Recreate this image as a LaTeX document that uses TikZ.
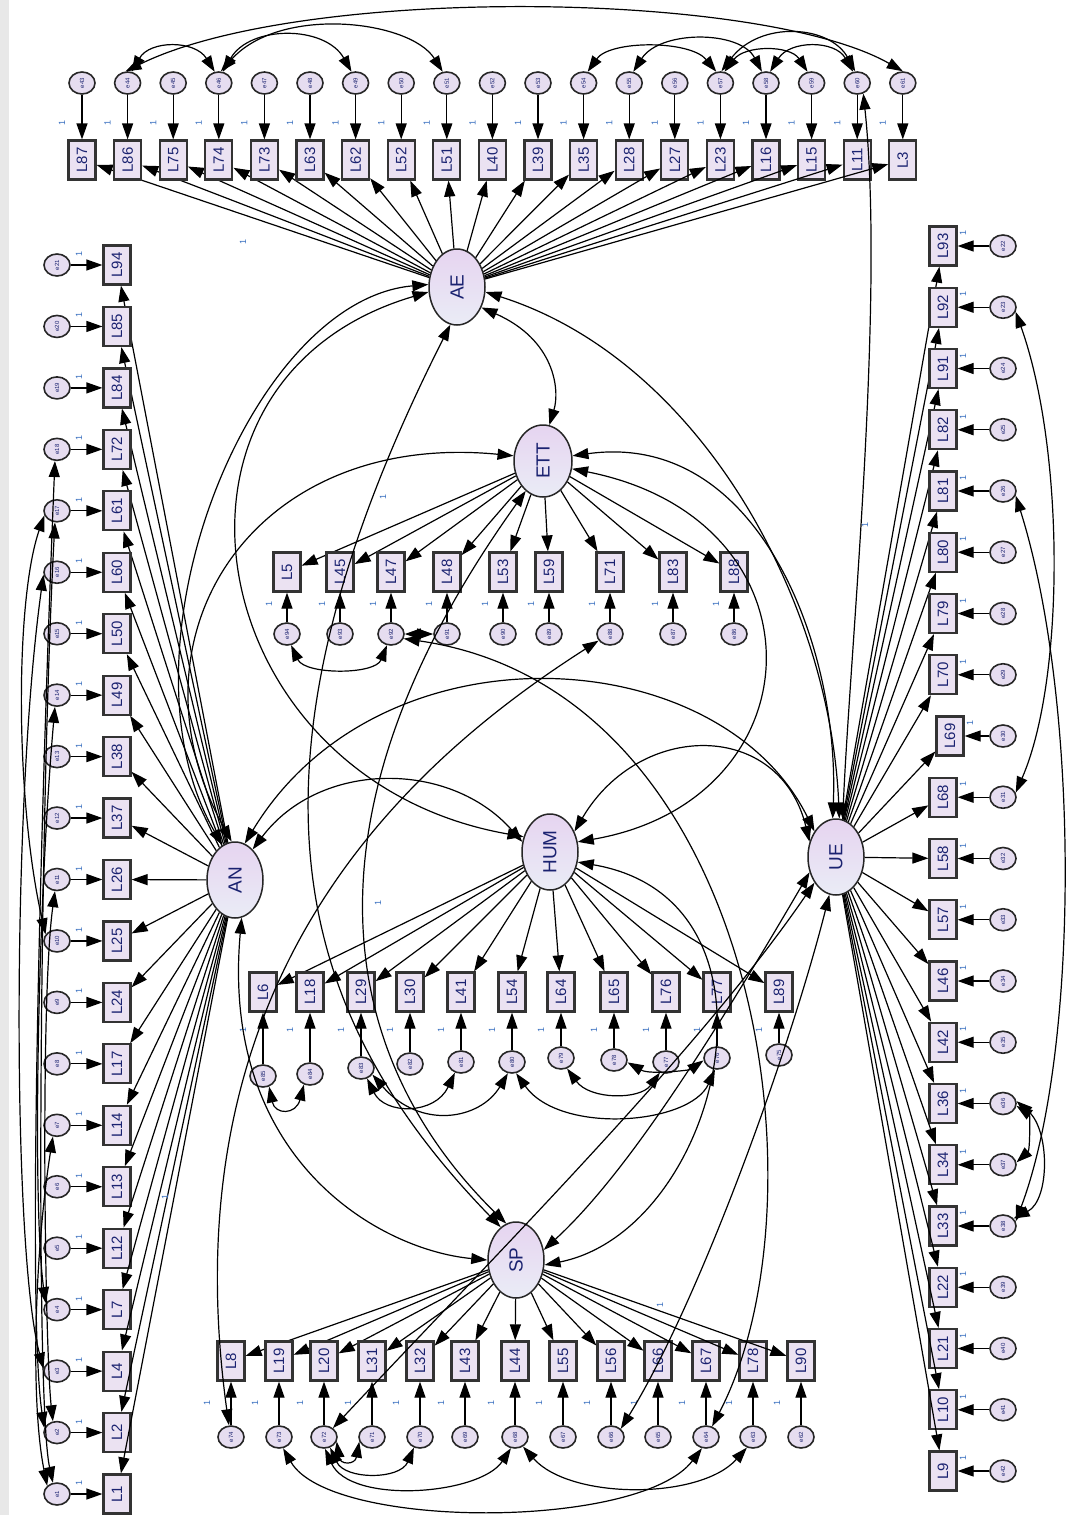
\documentclass[tikz,border=0pt]{standalone}
\usepackage{fontspec}
\setmainfont{Liberation Sans}
\usepackage{graphicx}
\usetikzlibrary{arrows.meta,shapes.geometric}
\definecolor{boxfill}{HTML}{EBE2F2}
\definecolor{errfill}{HTML}{E6DDF0}
\definecolor{latTop}{HTML}{E6D4F0}
\definecolor{latBot}{HTML}{EAECF6}
\definecolor{txt}{HTML}{1A2270}
\definecolor{onec}{HTML}{3A70C0}
\definecolor{edgegray}{HTML}{E8E8E8}
\begin{document}
\begin{tikzpicture}[x=1pt,y=-1pt,
  ebox/.style={draw=black!80, line width=2.2pt, fill=boxfill, minimum width=27pt, minimum height=39pt, inner sep=0pt, font=\fontsize{15}{15}\selectfont, text=txt},
  err/.style={ellipse, draw=black!85, line width=1.6pt, fill=errfill, minimum width=26pt, minimum height=22pt, inner sep=0pt, font=\fontsize{6}{6}\selectfont, text=txt},
  lat/.style={ellipse, draw=black!85, line width=1.5pt, top color=latTop, bottom color=latBot, minimum width=56pt, minimum height=76pt, inner sep=0pt, font=\fontsize{19}{19}\selectfont, text=txt},
  arr/.style={-{Triangle[length=16pt,width=11pt]}, line width=1.2pt},
  cov/.style={{Triangle[length=16pt,width=11pt]}-{Triangle[length=16pt,width=11pt]}, line width=1.2pt},
  one/.style={font=\fontsize{9}{9}\selectfont, text=onec, inner sep=0pt}]
\useasboundingbox (0,0) rectangle (1070,1515);
\fill[white] (0,0) rectangle (1070,1515);
\fill[edgegray] (0,0) rectangle (9,1515);

% latent variables
\node[lat] (AE) at (457,287) {\rotatebox{90}{AE}};
\node[lat, minimum width=58pt, minimum height=72pt] (ETT) at (543,461) {\rotatebox{90}{ETT}};
\node[lat] (AN) at (235,880) {\rotatebox{90}{AN}};
\node[lat] (HUM) at (550,852) {\rotatebox{90}{HUM}};
\node[lat] (UE) at (836,857) {\rotatebox{90}{UE}};
\node[lat] (SP) at (516,1260) {\rotatebox{90}{SP}};

% AE indicators (top row)
\foreach \lab/\err [count=\i from 0] in {87/43,86/44,75/45,74/46,73/47,63/48,62/49,52/50,51/51,40/52,39/53,35/54,28/55,27/56,23/57,16/58,15/59,11/60,3/61}{
  \pgfmathsetmacro\xx{82+45.6*\i}
  \node[ebox] (L\lab) at (\xx,160) {\rotatebox{90}{L\lab}};
  \node[err] (e\err) at (\xx,83) {\rotatebox{90}{e\err}};
  \node[one] (o\lab) at (\xx-20,123) {\rotatebox{90}{1}};
  \draw[arr] (e\err) -- (L\lab);
  \draw[arr] (AE) -- (L\lab);
}

% AN indicators (left column)
\foreach \lab/\err [count=\i from 0] in {94/21,85/20,84/19,72/18,61/17,60/16,50/15,49/14,38/13,37/12,26/11,25/10,24/9,17/8,14/7,13/6,12/5,7/4,4/3,2/2,1/1}{
  \pgfmathsetmacro\yy{265+61.45*\i}
  \node[ebox] (L\lab) at (117,\yy) {\rotatebox{90}{L\lab}};
  \node[err] (e\err) at (57,\yy) {\rotatebox{90}{e\err}};
  \node[one] (o\lab) at (79,\yy-11) {\rotatebox{90}{1}};
  \draw[arr] (e\err) -- (L\lab);
  \draw[arr] (AN) -- (L\lab);
}

% UE indicators (right column)
\foreach \lab/\err/\dx [count=\i from 0] in {93/22/0,92/23/0,91/24/0,82/25/0,81/26/0,80/27/0,79/28/0,70/29/0,69/30/7,68/31/0,58/32/0,57/33/0,46/34/0,42/35/0,36/36/0,34/37/0,33/38/0,22/39/0,21/40/0,10/41/0,9/42/0}{
  \pgfmathsetmacro\yy{246+61.25*\i}
  \node[ebox] (L\lab) at (943+\dx,\yy) {\rotatebox{90}{L\lab}};
  \node[err] (e\err) at (1003,\yy) {\rotatebox{90}{e\err}};
  \node[one] (o\lab) at (963+\dx,\yy-13) {\rotatebox{90}{1}};
  \draw[arr] (e\err) -- (L\lab);
  \draw[arr] (UE) -- (L\lab);
}

% ETT indicators
\foreach \lab/\err/\xx in {5/94/287,45/93/340,47/92/391,48/91/447,53/90/503,59/89/549,71/88/610,83/87/673,88/86/734}{
  \node[ebox] (L\lab) at (\xx,572) {\rotatebox{90}{L\lab}};
  \node[err] (e\err) at (\xx,634) {\rotatebox{90}{e\err}};
  \node[one] (o\lab) at (\xx-18,604) {\rotatebox{90}{1}};
  \draw[arr] (e\err) -- (L\lab);
  \draw[arr] (ETT) -- (L\lab);
}

% HUM indicators
\foreach \lab/\err/\xx/\ey in {6/85/263/1076,18/84/310/1074,29/83/361/1068,30/82/410/1064,41/81/461/1062,54/80/512/1062,64/79/561/1058,65/78/614/1060,76/77/666/1062,77/76/717/1058,89/75/779/1055}{
  \node[ebox] (L\lab) at (\xx,992) {\rotatebox{90}{L\lab}};
  \node[err] (e\err) at (\xx,\ey) {\rotatebox{90}{e\err}};
  \node[one] (o\lab) at (\xx-20,1030) {\rotatebox{90}{1}};
  \draw[arr] (e\err) -- (L\lab);
  \draw[arr] (HUM) -- (L\lab);
}

% SP indicators
\foreach \lab/\err/\xx in {8/74/231,19/73/279,20/72/324,31/71/372,32/70/420,43/69/465,44/68/515,55/67/563,56/66/611,66/65/658,67/64/706,78/63/753,90/62/801}{
  \node[ebox] (L\lab) at (\xx,1361) {\rotatebox{90}{L\lab}};
  \node[err] (e\err) at (\xx,1437) {\rotatebox{90}{e\err}};
  \node[one] (o\lab) at (\xx-24,1403) {\rotatebox{90}{1}};
  \draw[arr] (e\err) -- (L\lab);
  \draw[arr] (SP) -- (L\lab);
}

% extra fixed-loading labels
\node[one] (oa) at (243,242) {\rotatebox{90}{1}};
\node[one] (ob) at (383,497) {\rotatebox{90}{1}};
\node[one] (oc) at (378,903) {\rotatebox{90}{1}};
\node[one] (od) at (865,525) {\rotatebox{90}{1}};
\node[one] (oe) at (165,1197) {\rotatebox{90}{1}};
\node[one] (of) at (660,1305) {\rotatebox{90}{1}};

% covariances among latent variables
\draw[cov] (AE.-40) .. controls (555,340) and (560,390) .. (ETT.80);
\draw[cov] (AE.175) .. controls (250,300) and (110,650) .. (AN.110);
\draw[cov] (AE.190) .. controls (130,380) and (200,780) .. (HUM.150);
\draw[cov] (AE.-100) .. controls (220,780) and (300,1020) .. (SP.115);
\draw[cov] (AE.-10) .. controls (700,360) and (830,600) .. (UE.85);
\draw[cov] (ETT.170) .. controls (250,430) and (120,640) .. (AN.95);
\draw[cov] (ETT.-15) .. controls (830,520) and (820,800) .. (HUM.20);
\draw[cov] (ETT.-120) .. controls (290,820) and (340,1060) .. (SP.105);
\draw[cov] (ETT.10) .. controls (760,430) and (840,650) .. (UE.95);
\draw[cov] (AN.60) .. controls (320,760) and (450,760) .. (HUM.160);
\draw[cov] (AN.75) .. controls (380,620) and (720,640) .. (UE.130);
\draw[cov] (AN.-80) .. controls (220,1160) and (380,1250) .. (SP.180);
\draw[cov] (HUM.40) .. controls (640,720) and (780,720) .. (UE.150);
\draw[cov] (HUM.-20) .. controls (800,900) and (720,1230) .. (SP.-10);
\draw[cov] (UE.-150) .. controls (700,1060) and (620,1180) .. (SP.20);

% error covariances: top row
\draw[cov] (e44.70) .. controls (150,40) and (195,40) .. (e46.110);
\draw[cov] (e46.70) .. controls (250,25) and (325,25) .. (e49.110);
\draw[cov] (e46.80) .. controls (280,5) and (410,20) .. (e51.110);
\draw[cov] (e44.100) .. controls (300,-15) and (760,-10) .. (e61.90);
\draw[cov] (e54.70) .. controls (610,40) and (690,40) .. (e57.110);
\draw[cov] (e55.70) .. controls (660,30) and (740,30) .. (e58.110);
\draw[cov] (e57.70) .. controls (745,45) and (790,45) .. (e59.110);
\draw[cov] (e57.85) .. controls (760,20) and (830,25) .. (e60.100);
\draw[cov] (e58.70) .. controls (790,40) and (835,40) .. (e60.110);
\draw[cov] (e60.-60) .. controls (885,300) and (850,650) .. (UE.80);

% error covariances: right column
\draw[cov] (e23.-20) .. controls (1065,450) and (1065,680) .. (e31.20);
\draw[cov] (e26.-20) .. controls (1080,700) and (1080,1050) .. (e38.20);
\draw[cov] (e36.-10) .. controls (1030,1115) and (1030,1150) .. (e37.10);
\draw[cov] (e36.10) .. controls (1050,1130) and (1050,1200) .. (e38.35);

% error covariances: left column
\draw[cov] (e18.-100) .. controls (45,700) and (25,1300) .. (e2.160);
\draw[cov] (e17.-100) .. controls (40,800) and (35,1400) .. (e1.110);
\draw[cov] (e16.190) .. controls (12,800) and (12,1250) .. (e3.170);
\draw[cov] (e14.-100) .. controls (38,900) and (32,1200) .. (e4.150);
\draw[cov] (e11.-100) .. controls (40,1000) and (45,1350) .. (e2.110);
\draw[cov] (e10.150) .. controls (15,800) and (15,600) .. (e17.200);
\draw[cov] (e7.-110) .. controls (35,1250) and (30,1400) .. (e1.140);

% error covariances: ETT block
\draw[cov] (e94.-70) .. controls (305,675) and (375,675) .. (e92.-110);
\draw[cov] (e91) -- (e92);
\draw[cov] (e92.-20) .. controls (760,690) and (830,1200) .. (e64.60);
\draw[cov] (e88.-150) .. controls (380,780) and (170,1000) .. (e74.100);

% error covariances: HUM block
\draw[cov] (e85.-60) .. controls (275,1115) and (296,1115) .. (e84.-120);
\draw[cov] (e83.-60) .. controls (385,1115) and (435,1115) .. (e81.-120);
\draw[cov] (e83.-30) .. controls (420,1130) and (480,1120) .. (e80.-110);
\draw[cov] (e80.-70) .. controls (560,1135) and (690,1125) .. (e76.-100);
\draw[cov] (e79.-60) .. controls (590,1100) and (640,1100) .. (e77.-120);
\draw[cov] (e78.-10) .. controls (650,1075) and (690,1070) .. (e76.190);

% error covariances: SP block
\draw[cov] (e72.-60) .. controls (345,1480) and (400,1480) .. (e70.-120);
\draw[cov] (e72.-20) .. controls (340,1465) and (355,1465) .. (e71.-160);
\draw[cov] (e72.-85) .. controls (350,1505) and (480,1495) .. (e68.-110);
\draw[cov] (e68.-50) .. controls (570,1500) and (700,1500) .. (e63.-120);
\draw[cov] (e73.-70) .. controls (330,1530) and (640,1530) .. (e64.-110);
\draw[cov] (e72.45) .. controls (500,1250) and (700,1050) .. (UE.-130);
\draw[cov] (e66.40) .. controls (700,1300) and (790,1050) .. (UE.-100);
\end{tikzpicture}
\end{document}
